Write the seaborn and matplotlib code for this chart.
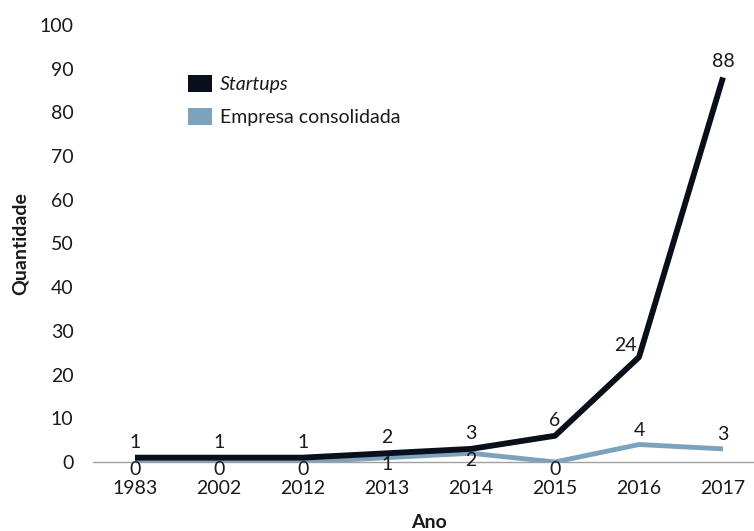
import matplotlib
matplotlib.use("Agg")
import matplotlib.pyplot as plt
import seaborn as sns
import pandas as pd
from matplotlib.patches import Patch

anos = ["1983", "2002", "2012", "2013", "2014", "2015", "2016", "2017"]
startups = [1, 1, 1, 2, 3, 6, 24, 88]
consolidada = [0, 0, 0, 1, 2, 0, 4, 3]
series_names = ["Startups", "Empresa consolidada"]
colors = {"Startups": "#0a0f1c", "Empresa consolidada": "#7da2bd"}

df = pd.DataFrame({
    "Ano": anos * 2,
    "Quantidade": startups + consolidada,
    "Serie": [series_names[0]] * len(anos) + [series_names[1]] * len(anos),
})

sns.set_theme(style="white")
plt.rcParams["font.family"] = ["Lato", "DejaVu Sans"]

fig = plt.figure(figsize=(7.54, 5.31), dpi=100)
ax = fig.add_axes([93 / 754, 69 / 531, 672 / 754, 437 / 531])

sns.lineplot(data=df, x="Ano", y="Quantidade", hue="Serie", hue_order=series_names[::-1],
             palette=colors, ax=ax, legend=False, sort=False)
for line, name in zip(ax.get_lines(), series_names[::-1]):
    line.set_linewidth(4.2 if name == "Startups" else 3.5)
    line.set_solid_capstyle("butt")

fs = 14
txtc = "#1a1a1a"
ax.set_xlim(-0.5, 7.5)
ax.set_ylim(0, 100)
ax.set_yticks(range(0, 101, 10))
ax.set_xticks(range(len(anos)))
ax.set_xticklabels(anos)
ax.tick_params(axis="both", length=0, labelsize=fs, colors=txtc)
ax.tick_params(axis="y", pad=14)
ax.tick_params(axis="x", pad=13)
for s in ["top", "right", "left"]:
    ax.spines[s].set_visible(False)
ax.spines["bottom"].set_color("#a0a0a0")
ax.spines["bottom"].set_linewidth(1.0)
ax.set_xlabel("Ano", fontsize=fs, fontweight="bold", labelpad=12, color=txtc)
ax.set_ylabel("Quantidade", fontsize=fs, fontweight="bold", labelpad=8, color=txtc)

for i, v in enumerate(startups):
    if i == 6:
        ax.annotate(str(v), (i, v), xytext=(-2, 2), textcoords="offset points",
                    ha="right", va="bottom", fontsize=fs, color=txtc)
    else:
        ax.annotate(str(v), (i, v), xytext=(0, 5), textcoords="offset points",
                    ha="center", va="bottom", fontsize=fs, color=txtc)
for i, v in enumerate(consolidada):
    if i >= 6:
        ax.annotate(str(v), (i, v), xytext=(0, 4), textcoords="offset points",
                    ha="center", va="bottom", fontsize=fs, color=txtc)
    else:
        ax.annotate(str(v), (i, v), xytext=(0, 1), textcoords="offset points",
                    ha="center", va="top", fontsize=fs, color=txtc)

handles = [Patch(facecolor=colors[n], edgecolor="none") for n in series_names]
leg = ax.legend(handles, series_names, loc="upper left", bbox_to_anchor=(0.116, 0.926),
                frameon=False, fontsize=fs, handlelength=1.2, handleheight=1.0,
                handletextpad=0.4, labelspacing=0.75)
for t in leg.get_texts():
    t.set_color(txtc)
leg.get_texts()[0].set_style("italic")

fig.savefig("out.png", dpi=100)
